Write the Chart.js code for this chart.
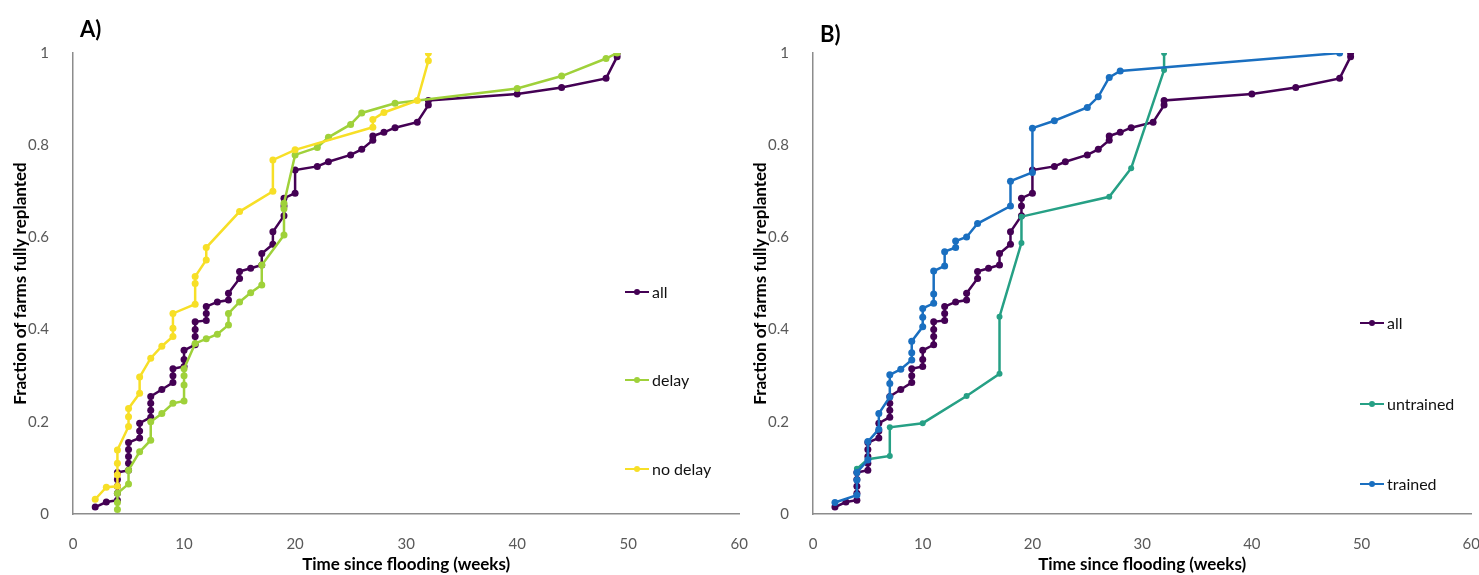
<!DOCTYPE html>
<html>
<head>
<meta charset="utf-8">
<script src="https://cdn.jsdelivr.net/npm/chart.js@4"></script>
<style>
  body { margin: 0; background: #fff; overflow: hidden; }
  #wrap { position: relative; width: 1479px; height: 575px; overflow: hidden; }
  canvas { position: absolute; top: 0; }
</style>
</head>
<body>
<div id="wrap">
  <canvas id="chartA" width="761" height="575" style="left:0"></canvas>
  <canvas id="chartB" width="753" height="575" style="left:740px"></canvas>
</div>
<script>
// weeks since flooding / cumulative fraction replanted
const allX = [2, 3, 4,4,4,4,4, 5,5,5,5,5, 6,6,6, 7,7,7,7, 8, 9,9,9, 10,10,10, 11,11,11,11, 12,12,12, 13, 14,14, 15,15, 16, 17,17, 18,18, 19,19,19, 20,20, 22, 23, 25, 26, 27,27, 28, 29, 31, 32,32, 40, 44, 48, 49,49];
const allY = [0.015, 0.026, 0.03,0.045,0.06,0.075,0.09, 0.095,0.11,0.125,0.14,0.155, 0.165,0.18,0.197, 0.21,0.225,0.24,0.255, 0.27, 0.285,0.30,0.315, 0.32,0.335,0.355, 0.367,0.385,0.40,0.417, 0.42,0.435,0.45, 0.46, 0.464,0.479, 0.511,0.526, 0.533, 0.54,0.565, 0.585,0.612, 0.647,0.668,0.685, 0.696,0.746, 0.754, 0.764, 0.779, 0.791, 0.811,0.82, 0.828, 0.838, 0.85, 0.887,0.897, 0.911, 0.925, 0.945, 0.992,1.0];

const delayX = [4,4,4, 5,5, 6, 7,7, 8, 9, 10,10,10,10, 11, 12, 13, 14,14, 15, 16, 17,17, 19,19,19, 20, 22, 23, 25, 26, 29, 40, 44, 48, 49];
const delayY = [0.01,0.025,0.045, 0.065,0.095, 0.135, 0.16,0.2, 0.218, 0.24, 0.245,0.28,0.3,0.315, 0.37, 0.38, 0.39, 0.41,0.435, 0.46, 0.48, 0.497,0.54, 0.605,0.662,0.674, 0.779, 0.795, 0.817, 0.845, 0.87, 0.891, 0.923, 0.95, 0.988, 1.0];

const noDelayX = [2, 3, 4,4,4,4, 5,5,5, 6,6, 7, 8, 9,9,9, 11,11,11, 12,12, 15, 18,18, 20, 27,27, 28, 31, 32,32];
const noDelayY = [0.032, 0.058, 0.06,0.085,0.11,0.139, 0.19,0.211,0.229, 0.262,0.297, 0.338, 0.364, 0.385,0.403,0.435, 0.455,0.5,0.515, 0.551,0.578, 0.656, 0.70,0.768, 0.79, 0.839,0.856, 0.871, 0.897, 0.983,1.0];

const untrainedX = [4, 5, 7, 7, 10, 14, 17, 17, 19, 19, 27, 29, 32, 32];
const untrainedY = [0.098, 0.119, 0.126, 0.188, 0.197, 0.256, 0.304, 0.428, 0.588, 0.645, 0.688, 0.75, 0.963, 1.0];

const trainedX = [2, 4,4,4, 5,5, 6,6, 7,7,7, 8, 9,9,9, 10,10,10, 11,11,11, 12,12, 13,13, 14, 15, 18,18, 20,20, 22, 25, 26, 27, 28, 48];
const trainedY = [0.025, 0.041,0.074,0.09, 0.117,0.157, 0.184,0.218, 0.254,0.283,0.302, 0.314, 0.334,0.35,0.375, 0.406,0.427,0.446, 0.457,0.477,0.527, 0.538,0.569, 0.578,0.592, 0.601, 0.63, 0.668,0.722, 0.741,0.837, 0.853, 0.882, 0.905, 0.947, 0.961, 1.0];

const yTicks = [0, 0.2, 0.4, 0.6, 0.8, 1];

const FONT = 'Lato';

function pts(xs, ys) {
  return xs.map((x, i) => ({ x: x, y: ys[i] }));
}

function series(label, xs, ys, color, radius, order) {
  return {
    label: label,
    data: pts(xs, ys),
    showLine: true,
    borderColor: color,
    backgroundColor: color,
    borderWidth: 2.5,
    pointRadius: radius,
    pointHoverRadius: radius,
    pointBorderWidth: 0,
    order: order
  };
}

// legend drawn inside the plot, Excel style, plus the panel letter
const insideLegend = {
  id: 'insideLegend',
  afterDraw(chart, args, opts) {
    const ctx = chart.ctx;
    ctx.save();
    chart.data.datasets.forEach((ds, i) => {
      const y = opts.rows[i];
      ctx.strokeStyle = ds.borderColor;
      ctx.lineWidth = 2;
      ctx.beginPath();
      ctx.moveTo(opts.x, y);
      ctx.lineTo(opts.x + 24, y);
      ctx.stroke();
      ctx.fillStyle = ds.borderColor;
      ctx.beginPath();
      ctx.arc(opts.x + 12, y, 3, 0, Math.PI * 2);
      ctx.fill();
      ctx.fillStyle = '#111';
      ctx.font = '16px ' + FONT;
      ctx.textBaseline = 'middle';
      ctx.textAlign = 'left';
      ctx.fillText(ds.label, opts.x + 27, y + 1);
    });
    ctx.fillStyle = '#000';
    ctx.font = 'bold 22px ' + FONT;
    ctx.textBaseline = 'middle';
    ctx.fillText(opts.tag, opts.tagX, opts.tagY);
    ctx.restore();
  }
};

function makeChart(id, datasets, rightPad, legendOpts) {
  return new Chart(document.getElementById(id), {
    type: 'scatter',
    data: { datasets: datasets },
    plugins: [insideLegend],
    options: {
      responsive: false,
      animation: false,
      devicePixelRatio: 1,
      layout: { padding: { top: 53, right: rightPad, bottom: 0, left: 0 } },
      scales: {
        x: {
          type: 'linear',
          min: 0,
          max: 60,
          grid: { display: false },
          border: { display: true, color: '#8c8c8c', width: 1.5 },
          ticks: { stepSize: 10, padding: 13, color: '#595959', font: { family: FONT, size: 15 } },
          title: {
            display: true,
            text: 'Time since flooding (weeks)',
            color: '#000',
            font: { family: FONT, size: 17, weight: 'bold' },
            padding: { top: 0, bottom: 0 }
          },
          afterFit: s => { s.height = 61; }
        },
        y: {
          type: 'linear',
          min: 0,
          max: 1,
          grid: { display: false },
          border: { display: true, color: '#8c8c8c', width: 1.5 },
          afterBuildTicks: s => { s.ticks = yTicks.map(v => ({ value: v })); },
          ticks: {
            padding: 16,
            color: '#595959',
            font: { family: FONT, size: 15 },
            callback: v => String(Math.round(v * 10) / 10)
          },
          title: {
            display: true,
            text: 'Fraction of farms fully replanted',
            color: '#000',
            font: { family: FONT, size: 17, weight: 'bold' },
            padding: { top: 10, bottom: 0 }
          },
          afterFit: s => { s.width = 73; }
        }
      },
      plugins: {
        legend: { display: false },
        tooltip: { enabled: false },
        insideLegend: legendOpts
      }
    }
  });
}

const purple = '#440154';

makeChart('chartA', [
  series('all', allX, allY, purple, 3.5, 3),
  series('delay', delayX, delayY, '#9fd13a', 3.5, 2),
  series('no delay', noDelayX, noDelayY, '#f7df27', 3.5, 1)
], 0, { x: 625, rows: [292, 380, 469], tag: 'A)', tagX: 80, tagY: 30 });

makeChart('chartB', [
  series('all', allX, allY, purple, 3.5, 3),
  series('untrained', untrainedX, untrainedY, '#26a085', 3, 2),
  series('trained', trainedX, trainedY, '#1a6fc0', 3.5, 1)
], 0, { x: 620, rows: [323, 404, 484], tag: 'B)', tagX: 80, tagY: 35 });
</script>
</body>
</html>
